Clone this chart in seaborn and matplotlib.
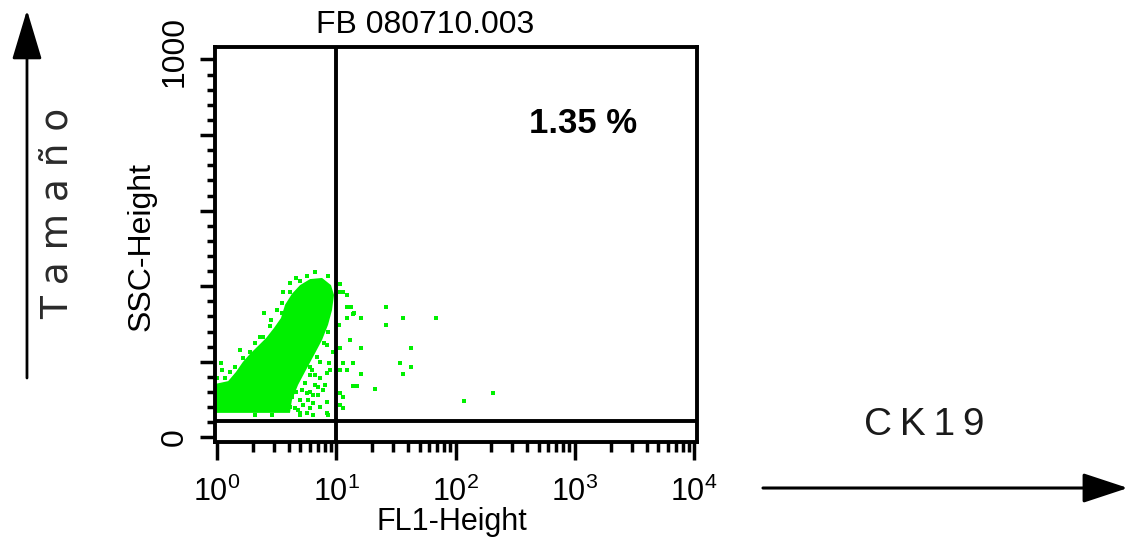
import numpy as np
import pandas as pd
import matplotlib
matplotlib.use("Agg")
import matplotlib.pyplot as plt
import matplotlib.transforms as mtransforms
import seaborn as sns
from matplotlib.ticker import FixedLocator, LogLocator, MultipleLocator, NullFormatter
from matplotlib.patches import FancyArrowPatch

# ---------------- data ----------------
# dense core of the population (outline, FL1 value / SSC value)
core_x = [0.98, 0.98, 1.24, 1.44, 1.65, 1.89, 2.21, 2.58, 3.01, 3.44, 3.72, 4.25,
          4.97, 6.03, 7.60, 9.03, 9.57, 9.21, 8.53, 7.60, 6.51, 5.58, 4.78, 4.25, 4.09]
core_y = [65, 142, 149, 173, 200, 221, 242, 263, 290, 316, 351, 380,
          403, 419, 422, 403, 377, 337, 298, 258, 218, 179, 139, 99, 65]

# scattered events left of the FL1 gate
left_x = [5.65, 4.97, 8.53, 3.56, 4.09, 3.49, 2.48, 2.82, 3.49, 2.29, 2.43, 2.08,
          1.89, 1.65, 1.89, 1.07, 1.42, 1.0, 1.17, 1.50, 8.05, 8.58, 7.89, 6.86,
          6.03, 6.03, 7.07, 5.65, 4.97, 6.42, 7.31, 8.32, 3.60, 4.09, 2.08, 2.88,
          4.97, 8.58, 8.74, 8.32, 7.31, 6.64, 7.79, 6.42, 5.83, 8.32, 7.31, 6.03,
          6.42, 4.97, 4.51, 3.84, 4.23, 5.13, 5.47, 6.64, 6.22,
          4.60, 5.26, 7.03, 8.05, 8.87, 9.39, 8.36, 7.31, 6.03, 4.78, 5.68, 3.25,
          1.56, 1.29, 1.10, 2.78, 3.18, 4.09, 4.60, 6.64]
left_y = [427, 415, 427, 386, 386, 355, 329, 311, 329, 267, 267, 250,
          227, 210, 205, 198, 187, 157, 157, 161, 311, 280, 249, 214,
          187, 165, 134, 117, 99, 90, 81, 64, 90, 81, 60, 60,
          60, 60, 196, 170, 157, 139, 126, 112, 99, 95, 81, 77,
          60, 64, 77, 90, 108, 126, 143, 165, 179,
          121, 86, 112, 139, 179, 226, 245, 200, 120, 73, 65, 81,
          231, 173, 179, 295, 337, 409, 422, 438]

# events right of the FL1 gate (CK19 positive region)
right_x = [26.1, 36.3, 68.6, 26.1, 16.1, 12.3, 13.8, 12.8, 13.3, 10.7, 11.4, 12.3,
           10.7, 13.0, 16.1, 42.4, 10.7, 34.3, 42.4, 36.3, 16.1, 13.8, 11.4, 12.3,
           10.7, 13.8, 14.9, 21.1, 10.7, 11.4, 10.7, 11.4, 118, 206, 10.5, 12.2, 14.1]
right_y = [345, 316, 316, 298, 316, 316, 327, 345, 345, 385, 385, 377,
           406, 258, 237, 237, 237, 197, 187, 168, 168, 197, 197, 179,
           179, 136, 136, 128, 118, 107, 86, 78, 97, 118, 298, 346, 329]

gate_x = 10
gate_y = 44

x_tick_vals = [1, 10, 100, 1000, 10000]
x_tick_labels = [r"$\mathregular{10^{0}}$", r"$\mathregular{10^{1}}$",
                 r"$\mathregular{10^{2}}$", r"$\mathregular{10^{3}}$",
                 r"$\mathregular{10^{4}}$"]
y_tick_vals = [0, 200, 400, 600, 800, 1000]
y_tick_labels = ["0", "", "", "", "", "1000"]

title = "FB 080710.003"
pct_text = "1.35 %"

GREEN = "#00f000"

# ---------------- style ----------------
sns.set_style("ticks")
plt.rcParams["font.family"] = ["Liberation Sans", "DejaVu Sans"]
plt.rcParams["mathtext.fontset"] = "custom"
plt.rcParams["mathtext.rm"] = "Liberation Sans"
plt.rcParams["text.color"] = "black"
plt.rcParams["axes.labelcolor"] = "black"
plt.rcParams["xtick.color"] = "black"
plt.rcParams["ytick.color"] = "black"

fig = plt.figure(figsize=(11.29, 5.39), dpi=100)
ax = fig.add_axes([0.19, 0.18, 0.4274, 0.7328])

ax.fill(core_x, core_y, color=GREEN, lw=0, zorder=1)
df = pd.DataFrame({"FL1-Height": left_x + right_x, "SSC-Height": left_y + right_y})
sns.scatterplot(data=df, x="FL1-Height", y="SSC-Height", marker="s", s=10,
                color=GREEN, linewidth=0, ax=ax, zorder=2)

ax.set_xscale("log")
ax.set_xlim(10 ** -0.021, 10 ** 4.025)
ax.set_ylim(-12, 1033)

ax.axvline(gate_x, color="black", lw=2.8, zorder=3)
ax.axhline(gate_y, color="black", lw=2.8, zorder=3)

for s in ax.spines.values():
    s.set_linewidth(2.8)
    s.set_color("black")
    s.set_visible(True)

ax.xaxis.set_major_locator(FixedLocator(x_tick_vals))
ax.set_xticklabels(x_tick_labels)
ax.xaxis.set_minor_locator(LogLocator(base=10, subs=np.arange(2, 10)))
ax.xaxis.set_minor_formatter(NullFormatter())
ax.tick_params(axis="x", which="major", direction="out", length=13, width=2.5,
               pad=12, labelsize=22, colors="black")
ax.tick_params(axis="x", which="minor", direction="out", length=7, width=2.5)

ax.set_yticks(y_tick_vals)
ax.set_yticklabels(y_tick_labels)
ax.yaxis.set_minor_locator(MultipleLocator(40))
ax.tick_params(axis="y", which="major", direction="out", length=11, width=2.5,
               pad=7, labelsize=23, labelrotation=90, colors="black")
ax.tick_params(axis="y", which="minor", direction="out", length=6, width=2.5)
for lbl in ax.get_yticklabels():
    lbl.set_verticalalignment("center")
top_lbl = ax.yaxis.get_major_ticks()[-1].label1
top_lbl.set_transform(top_lbl.get_transform() +
                      mtransforms.ScaledTranslation(0, 8 / 100, fig.dpi_scale_trans))

ax.set_xlabel("FL1-Height", fontsize=22)
ax.xaxis.set_label_coords(0.492, -0.165)
ax.set_ylabel("SSC-Height", fontsize=23)
ax.yaxis.set_label_coords(-0.12, 0.494)

ax.text(0.764, 0.782, pct_text, transform=ax.transAxes, ha="center",
        va="baseline", fontsize=25, fontweight="bold")

fig.text(0.3764, 0.9388, title, ha="center", va="baseline", fontsize=23)

# outer annotations
fig.text(0.0514, 0.605, "T a m a ñ o", rotation=90,
         ha="center", va="center", fontsize=27, color="#2a2a2a",
         family=["DejaVu Sans"])
fig.text(0.819, 0.193, "C\u2009K\u20091\u20099", ha="center", va="baseline",
         fontsize=28, color="#1a1a1a")

fig.add_artist(FancyArrowPatch((0.0239, 0.2987), (0.0239, 0.9814),
                               transform=fig.transFigure,
                               arrowstyle="-|>,head_length=1.0,head_width=0.3",
                               mutation_scale=31, lw=2, color="black",
                               shrinkA=0, shrinkB=0))
fig.add_artist(FancyArrowPatch((0.6758, 0.0946), (0.999, 0.0946),
                               transform=fig.transFigure,
                               arrowstyle="-|>,head_length=1.0,head_width=0.33",
                               mutation_scale=28, lw=2.2, color="black",
                               shrinkA=0, shrinkB=0))

fig.savefig("out.png", dpi=100)
